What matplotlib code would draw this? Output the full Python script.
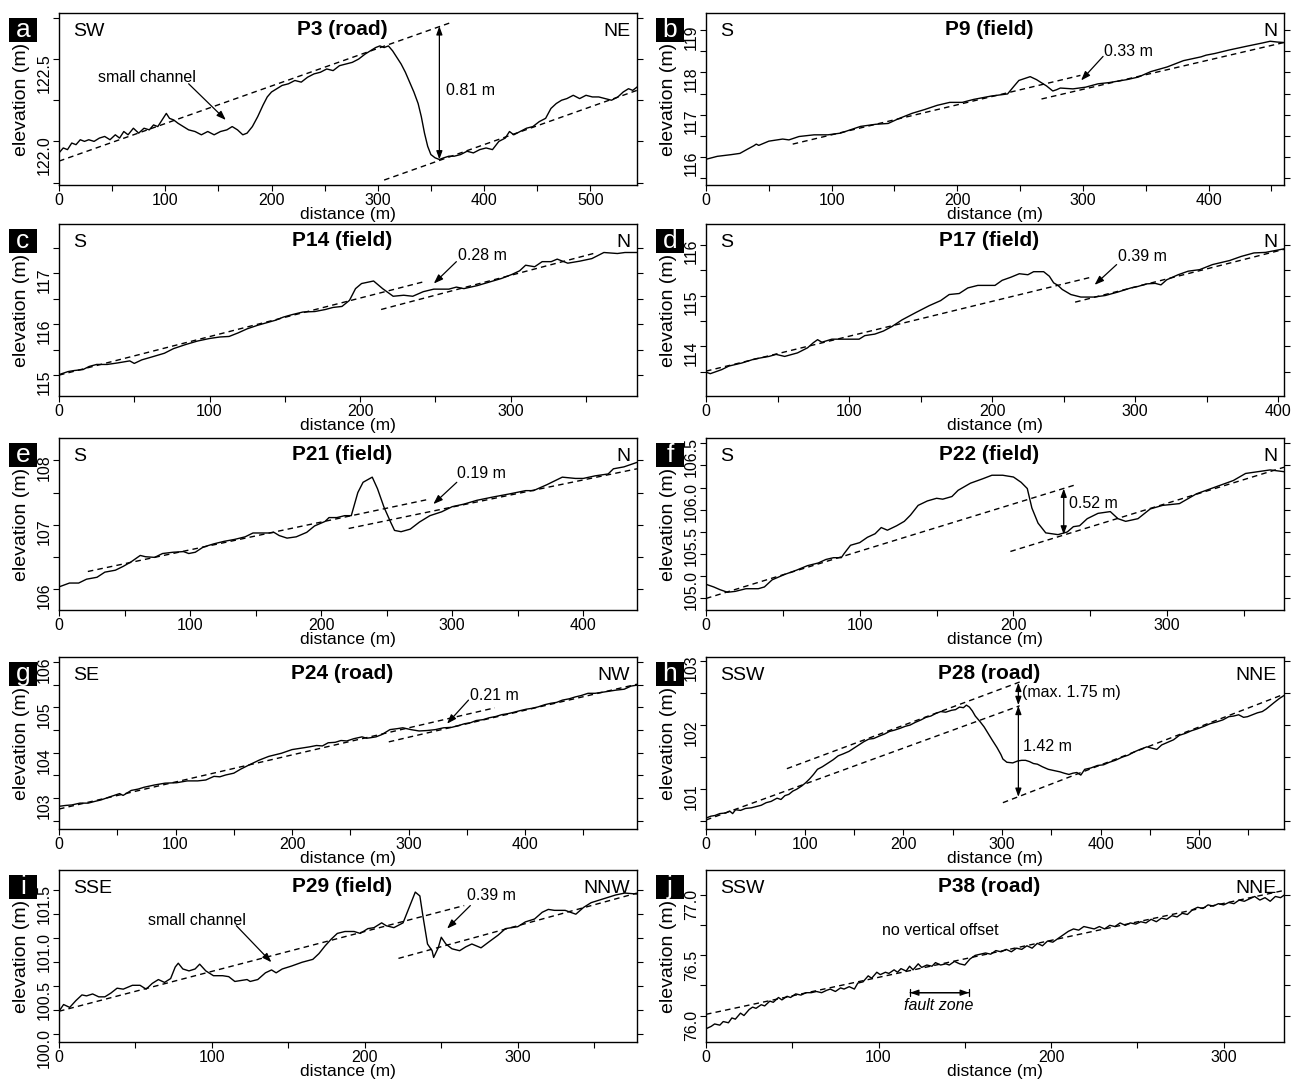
import matplotlib.pyplot as plt
from matplotlib.ticker import MultipleLocator, FormatStrFormatter
from matplotlib.patches import Rectangle

plt.rcParams['font.family'] = ['Liberation Sans Narrow', 'Liberation Sans', 'DejaVu Sans']
plt.rcParams['axes.linewidth'] = 1.0

# --- topographic profiles: distance (m) / elevation (m) ---
a_dist = [0, 4, 8, 12, 16, 20, 24, 28, 33, 38, 43, 48, 53, 57, 61, 65, 70, 75, 80, 85,
          89, 93, 97, 101, 104, 108, 112, 117, 122, 128, 134, 140, 146, 152, 158, 163, 168, 173, 177, 182,
          187, 192, 196, 200, 205, 210, 216, 222, 228, 234, 240, 246, 252, 258, 264, 270, 276, 282, 288, 293,
          298, 302, 306, 310, 314, 318, 322, 326, 330, 334, 338, 341, 344, 347, 350, 354, 358, 362, 367, 372,
          378, 384, 390, 396, 402, 408, 414, 420, 424, 428, 434, 440, 446, 452, 458, 463, 468, 473, 478, 484,
          490, 496, 502, 508, 514, 520, 526, 531, 536, 540, 544]
a_elev = [121.93, 121.96, 121.95, 121.99, 121.98, 122.01, 122.00, 122.01, 122.00, 122.02,
          122.03, 122.01, 122.04, 122.02, 122.06, 122.04, 122.08, 122.05, 122.08, 122.07,
          122.10, 122.09, 122.13, 122.17, 122.14, 122.13, 122.11, 122.09, 122.07, 122.06,
          122.04, 122.06, 122.04, 122.06, 122.07, 122.09, 122.07, 122.04, 122.05, 122.09,
          122.15, 122.22, 122.27, 122.30, 122.32, 122.34, 122.35, 122.37, 122.36, 122.39,
          122.41, 122.42, 122.44, 122.43, 122.46, 122.47, 122.48, 122.50, 122.53, 122.55,
          122.57, 122.58, 122.57, 122.58, 122.55, 122.51, 122.47, 122.42, 122.36, 122.30,
          122.23, 122.15, 122.05, 121.97, 121.92, 121.90, 121.89, 121.90, 121.91, 121.91,
          121.92, 121.94, 121.93, 121.95, 121.96, 121.95, 122.00, 122.02, 122.06, 122.04,
          122.06, 122.08, 122.09, 122.12, 122.14, 122.20, 122.23, 122.25, 122.26, 122.28,
          122.26, 122.28, 122.27, 122.27, 122.26, 122.25, 122.27, 122.30, 122.32, 122.31,
          122.33]

b_dist = [0, 9, 20, 27, 33, 38, 40, 42, 50, 61, 66, 74, 86, 97, 107, 115, 123, 135, 145, 153,
          164, 174, 184, 194, 204, 213, 227, 240, 245, 249, 258, 263, 271, 276, 279, 282, 292, 302, 312, 321,
          335, 344, 354, 367, 380, 394, 398, 405, 416, 430, 443, 449, 455, 460]
b_elev = [115.94, 116.01, 116.05, 116.08, 116.18, 116.26, 116.30, 116.27, 116.37, 116.42,
          116.40, 116.48, 116.52, 116.52, 116.56, 116.64, 116.72, 116.77, 116.79, 116.90,
          117.03, 117.12, 117.22, 117.29, 117.29, 117.36, 117.44, 117.49, 117.67, 117.81,
          117.90, 117.83, 117.68, 117.56, 117.59, 117.63, 117.61, 117.65, 117.73, 117.76,
          117.83, 117.89, 118.02, 118.13, 118.28, 118.37, 118.41, 118.45, 118.53, 118.62,
          118.70, 118.74, 118.72, 118.71]

c_dist = [0, 6, 10, 16, 20, 25, 32, 39, 43, 47, 50, 55, 62, 70, 76, 84, 92, 100, 107, 113,
          119, 125, 132, 138, 144, 149, 155, 162, 170, 177, 182, 188, 193, 197, 201, 209, 215, 222, 229, 235,
          242, 249, 259, 264, 269, 278, 286, 294, 301, 306, 310, 316, 321, 327, 331, 338, 346, 354, 362, 371,
          376, 384]
c_elev = [115.01, 115.07, 115.09, 115.11, 115.17, 115.21, 115.21, 115.24, 115.26, 115.28,
          115.23, 115.30, 115.36, 115.43, 115.52, 115.60, 115.67, 115.72, 115.75, 115.76,
          115.83, 115.91, 115.98, 116.03, 116.08, 116.14, 116.19, 116.24, 116.25, 116.29,
          116.33, 116.35, 116.47, 116.70, 116.80, 116.85, 116.70, 116.55, 116.57, 116.55,
          116.64, 116.69, 116.69, 116.73, 116.70, 116.76, 116.83, 116.90, 116.98, 117.05,
          117.16, 117.13, 117.23, 117.23, 117.28, 117.20, 117.24, 117.29, 117.41, 117.39,
          117.41, 117.41]

d_dist = [0, 3, 11, 16, 25, 34, 44, 49, 55, 64, 71, 75, 78, 81, 88, 95, 107, 111, 118, 124,
          130, 137, 147, 156, 164, 170, 177, 183, 190, 202, 207, 213, 219, 225, 229, 236, 240, 243, 246, 249,
          255, 262, 271, 279, 288, 297, 302, 308, 314, 318, 322, 330, 337, 345, 354, 366, 374, 383, 391, 404]
d_elev = [113.49, 113.46, 113.54, 113.61, 113.67, 113.75, 113.80, 113.84, 113.80, 113.87,
          113.97, 114.07, 114.13, 114.08, 114.14, 114.14, 114.14, 114.21, 114.24, 114.30,
          114.39, 114.52, 114.67, 114.80, 114.90, 115.02, 115.04, 115.15, 115.20, 115.20,
          115.30, 115.36, 115.43, 115.41, 115.47, 115.47, 115.38, 115.25, 115.20, 115.12,
          115.02, 114.97, 114.97, 115.00, 115.07, 115.15, 115.18, 115.23, 115.24, 115.21,
          115.31, 115.41, 115.48, 115.51, 115.61, 115.69, 115.77, 115.84, 115.85, 115.92]

e_dist = [0, 8, 15, 21, 29, 35, 43, 49, 55, 62, 66, 73, 79, 87, 95, 99, 104, 110, 118, 126,
          134, 142, 148, 154, 160, 164, 168, 174, 181, 189, 195, 203, 206, 212, 218, 223, 228, 232, 239, 243,
          248, 253, 256, 261, 268, 275, 283, 292, 300, 309, 319, 331, 344, 356, 362, 372, 384, 394, 400, 409,
          419, 423, 431, 441]
e_elev = [106.03, 106.09, 106.09, 106.15, 106.18, 106.26, 106.29, 106.35, 106.42, 106.52,
          106.50, 106.49, 106.55, 106.57, 106.58, 106.55, 106.57, 106.65, 106.70, 106.74,
          106.77, 106.81, 106.87, 106.87, 106.87, 106.88, 106.83, 106.79, 106.81, 106.88,
          106.98, 107.05, 107.11, 107.11, 107.14, 107.14, 107.50, 107.66, 107.74, 107.56,
          107.27, 107.04, 106.91, 106.89, 106.93, 107.04, 107.14, 107.20, 107.28, 107.32,
          107.38, 107.43, 107.48, 107.53, 107.53, 107.62, 107.74, 107.72, 107.72, 107.76,
          107.79, 107.87, 107.90, 107.97]

f_dist = [0, 5, 9, 14, 19, 26, 34, 38, 43, 51, 59, 66, 73, 78, 83, 88, 90, 94, 100, 105,
          110, 114, 118, 124, 129, 133, 138, 144, 150, 154, 160, 164, 172, 180, 186, 193, 200, 205, 209, 212,
          216, 221, 229, 235, 239, 243, 248, 255, 263, 268, 273, 281, 289, 297, 308, 319, 327, 335, 343, 351,
          359, 367, 376]
f_elev = [104.91, 104.88, 104.85, 104.82, 104.83, 104.86, 104.86, 104.88, 104.96, 105.02,
          105.07, 105.12, 105.15, 105.19, 105.21, 105.21, 105.26, 105.35, 105.38, 105.44,
          105.48, 105.55, 105.52, 105.57, 105.62, 105.69, 105.80, 105.85, 105.88, 105.87,
          105.90, 105.97, 106.05, 106.10, 106.14, 106.14, 106.12, 106.06, 105.99, 105.77,
          105.60, 105.49, 105.47, 105.50, 105.56, 105.57, 105.65, 105.71, 105.73, 105.65,
          105.62, 105.65, 105.76, 105.80, 105.82, 105.93, 105.98, 106.03, 106.08, 106.16,
          106.18, 106.20, 106.18]

g_dist = [0, 6, 11, 18, 25, 31, 36, 45, 52, 55, 62, 68, 73, 82, 91, 101, 110, 119, 126, 133,
          138, 143, 150, 156, 163, 172, 180, 191, 200, 210, 215, 221, 226, 231, 237, 242, 247, 253, 260, 264,
          267, 272, 277, 284, 290, 295, 302, 309, 316, 323, 330, 337, 343, 348, 353, 358, 364, 369, 375, 380,
          385, 390, 396, 401, 406, 411, 417, 422, 427, 432, 438, 443, 448, 454, 460, 468, 473, 478, 485, 491,
          496]
g_elev = [102.82, 102.84, 102.85, 102.89, 102.89, 102.93, 102.96, 103.04, 103.10, 103.06,
          103.17, 103.20, 103.24, 103.29, 103.33, 103.34, 103.38, 103.38, 103.40, 103.48,
          103.47, 103.51, 103.55, 103.64, 103.73, 103.84, 103.92, 103.99, 104.07, 104.11,
          104.13, 104.16, 104.15, 104.22, 104.23, 104.27, 104.26, 104.31, 104.35, 104.32,
          104.33, 104.35, 104.40, 104.51, 104.53, 104.55, 104.51, 104.48, 104.49, 104.51,
          104.55, 104.56, 104.60, 104.64, 104.66, 104.71, 104.73, 104.77, 104.80, 104.84,
          104.86, 104.89, 104.93, 104.96, 104.98, 105.01, 105.06, 105.09, 105.11, 105.16,
          105.19, 105.23, 105.26, 105.31, 105.31, 105.34, 105.36, 105.38, 105.40, 105.47,
          105.49]

h_dist = [0, 5, 9, 14, 20, 24, 27, 30, 35, 40, 46, 51, 56, 61, 66, 72, 76, 80, 84, 88,
          92, 97, 101, 105, 109, 113, 118, 124, 129, 134, 139, 145, 150, 155, 160, 165, 170, 176, 181, 186,
          191, 197, 202, 207, 212, 218, 223, 228, 233, 238, 243, 249, 253, 257, 261, 264, 267, 270, 273, 278,
          282, 286, 290, 295, 299, 301, 305, 311, 316, 320, 324, 328, 332, 336, 341, 347, 353, 359, 363, 368,
          372, 376, 380, 384, 390, 397, 403, 409, 415, 422, 428, 434, 440, 447, 452, 457, 462, 468, 474, 480,
          486, 492, 498, 505, 511, 518, 524, 530, 535, 540, 545, 549, 554, 559, 564, 568, 572, 576, 581, 586]
h_elev = [100.55, 100.58, 100.59, 100.62, 100.63, 100.66, 100.62, 100.68, 100.67, 100.70,
          100.71, 100.73, 100.75, 100.79, 100.81, 100.86, 100.84, 100.90, 100.92, 100.97,
          101.00, 101.05, 101.10, 101.16, 101.23, 101.31, 101.35, 101.41, 101.46, 101.52,
          101.55, 101.59, 101.64, 101.69, 101.74, 101.78, 101.79, 101.83, 101.86, 101.90,
          101.92, 101.95, 101.98, 102.00, 102.04, 102.08, 102.12, 102.14, 102.18, 102.21,
          102.20, 102.23, 102.24, 102.28, 102.27, 102.31, 102.28, 102.22, 102.14, 102.05,
          101.97, 101.87, 101.77, 101.65, 101.54, 101.47, 101.42, 101.41, 101.44, 101.45,
          101.45, 101.43, 101.40, 101.39, 101.35, 101.31, 101.29, 101.27, 101.25, 101.23,
          101.25, 101.26, 101.22, 101.31, 101.33, 101.37, 101.38, 101.42, 101.45, 101.50,
          101.53, 101.58, 101.62, 101.66, 101.64, 101.62, 101.69, 101.73, 101.77, 101.84,
          101.87, 101.91, 101.94, 101.98, 102.02, 102.05, 102.08, 102.13, 102.14, 102.16,
          102.12, 102.13, 102.16, 102.19, 102.21, 102.25, 102.30, 102.35, 102.41, 102.46]

i_dist = [0, 3, 7, 11, 15, 18, 22, 26, 30, 34, 38, 42, 48, 53, 57, 61, 65, 69, 73, 76,
          78, 81, 85, 89, 92, 96, 101, 107, 111, 115, 119, 123, 125, 130, 135, 139, 142, 146, 152, 159,
          166, 170, 174, 178, 182, 187, 193, 197, 202, 206, 211, 214, 219, 225, 229, 233, 236, 238, 241, 244,
          245, 248, 250, 253, 257, 262, 266, 270, 276, 281, 287, 292, 300, 305, 311, 316, 320, 324, 331, 338,
          343, 348, 356, 364, 370, 378]
i_elev = [100.24, 100.31, 100.28, 100.35, 100.41, 100.40, 100.42, 100.39, 100.39, 100.43,
          100.48, 100.47, 100.51, 100.51, 100.47, 100.53, 100.57, 100.54, 100.58, 100.70,
          100.74, 100.68, 100.66, 100.68, 100.73, 100.66, 100.61, 100.61, 100.60, 100.55,
          100.56, 100.57, 100.55, 100.57, 100.64, 100.67, 100.64, 100.68, 100.71, 100.75,
          100.78, 100.84, 100.92, 100.99, 101.05, 101.07, 101.07, 101.05, 101.10, 101.11,
          101.16, 101.13, 101.11, 101.16, 101.32, 101.48, 101.44, 101.23, 100.94, 100.87,
          100.80, 100.90, 101.01, 100.94, 100.89, 100.87, 100.91, 100.94, 100.90, 100.96,
          101.03, 101.10, 101.12, 101.17, 101.20, 101.27, 101.30, 101.29, 101.29, 101.25,
          101.32, 101.37, 101.41, 101.45, 101.47, 101.46]

j_dist = [0, 3, 5, 8, 10, 13, 15, 17, 20, 22, 25, 27, 29, 32, 34, 37, 39, 42, 44, 47,
          49, 52, 55, 58, 61, 64, 67, 70, 72, 75, 78, 80, 83, 86, 88, 91, 94, 96, 99, 101,
          104, 106, 109, 111, 113, 116, 118, 120, 123, 125, 128, 131, 133, 136, 139, 141, 144, 147, 150, 153,
          156, 159, 162, 165, 168, 171, 174, 177, 180, 183, 186, 189, 192, 195, 198, 201, 204, 207, 210, 213,
          216, 219, 222, 225, 228, 231, 234, 237, 240, 243, 246, 249, 252, 255, 258, 261, 264, 267, 270, 273,
          276, 279, 282, 285, 288, 291, 294, 297, 300, 303, 306, 309, 312, 315, 318, 321, 324, 327, 330, 333,
          335]
j_elev = [75.89, 75.91, 75.93, 75.92, 75.95, 75.94, 75.98, 75.97, 76.02, 76.00,
          76.05, 76.07, 76.06, 76.09, 76.08, 76.12, 76.11, 76.15, 76.13, 76.16,
          76.15, 76.18, 76.17, 76.19, 76.19, 76.20, 76.19, 76.21, 76.22, 76.20,
          76.23, 76.22, 76.24, 76.22, 76.27, 76.28, 76.33, 76.31, 76.36, 76.34,
          76.36, 76.35, 76.38, 76.36, 76.39, 76.37, 76.41, 76.38, 76.43, 76.40,
          76.42, 76.41, 76.44, 76.42, 76.43, 76.42, 76.45, 76.43, 76.42, 76.47,
          76.50, 76.51, 76.52, 76.51, 76.54, 76.53, 76.55, 76.53, 76.56, 76.55,
          76.58, 76.56, 76.60, 76.58, 76.62, 76.61, 76.64, 76.67, 76.70, 76.72,
          76.71, 76.74, 76.73, 76.72, 76.74, 76.72, 76.75, 76.74, 76.77, 76.75,
          76.77, 76.76, 76.78, 76.77, 76.80, 76.78, 76.81, 76.80, 76.83, 76.82,
          76.85, 76.84, 76.88, 76.90, 76.89, 76.92, 76.91, 76.93, 76.92, 76.94,
          76.93, 76.96, 76.95, 76.97, 76.99, 76.96, 76.98, 76.95, 76.99, 76.98,
          77.00]

# fitted surface lines [x0, y0, x1, y1]
a_fit = [[0, 121.88, 368, 122.72], [306, 121.765, 544, 122.31]]
b_fit = [[69, 116.30, 298, 117.93], [267, 117.37, 460, 118.71]]
c_fit = [[0, 115.0, 243, 116.84], [214, 116.29, 355, 117.39]]
d_fit = [[0, 113.51, 269, 115.36], [258, 114.87, 404, 115.91]]
e_fit = [[22, 106.27, 281, 107.39], [221, 106.94, 441, 107.87]]
f_fit = [[0, 104.75, 240, 106.03], [198, 105.28, 376, 106.23]]
g_fit = [[0, 102.76, 374, 104.99], [283, 104.24, 496, 105.51]]
h_fit = [[82, 101.32, 318, 102.67], [0, 100.52, 318, 102.30], [301, 100.79, 586, 102.48]]
i_fit = [[0, 100.24, 265, 101.34], [222, 100.79, 378, 101.47]]
j_fit = [[0, 76.01, 335, 77.04]]

letters = ['a', 'b', 'c', 'd', 'e', 'f', 'g', 'h', 'i', 'j']
titles = ['P3 (road)', 'P9 (field)', 'P14 (field)', 'P17 (field)', 'P21 (field)',
          'P22 (field)', 'P24 (road)', 'P28 (road)', 'P29 (field)', 'P38 (road)']
dir_left = ['SW', 'S', 'S', 'S', 'S', 'S', 'SE', 'SSW', 'SSE', 'SSW']
dir_right = ['NE', 'N', 'N', 'N', 'N', 'N', 'NW', 'NNE', 'NNW', 'NNE']
x_max = [544, 460, 384, 404, 441, 376, 496, 586, 378, 335]
y_lims = [(121.735, 122.78), (115.33, 119.41), (114.59, 117.97), (113.02, 116.41),
          (105.67, 108.35), (104.62, 106.56), (102.32, 106.11), (100.38, 103.06),
          (99.92, 101.71), (75.78, 77.21)]
y_step = [0.5, 1, 1, 1, 1, 0.5, 1, 1, 0.5, 0.5]

profiles = [(a_dist, a_elev, a_fit), (b_dist, b_elev, b_fit), (c_dist, c_elev, c_fit),
            (d_dist, d_elev, d_fit), (e_dist, e_elev, e_fit), (f_dist, f_elev, f_fit),
            (g_dist, g_elev, g_fit), (h_dist, h_elev, h_fit), (i_dist, i_elev, i_fit),
            (j_dist, j_elev, j_fit)]

W, H = 1291, 1082
fig = plt.figure(figsize=(W / 100, H / 100), dpi=100)
col_left = [59, 706]
row_top = [13, 224, 438, 657, 870]
ax_w, ax_h = 578, 172

SANS = 'Liberation Sans'
axes = []
for k in range(10):
    r, c = divmod(k, 2)
    ax = fig.add_axes([col_left[c] / W, 1 - (row_top[r] + ax_h) / H, ax_w / W, ax_h / H])
    dist, elev, fits = profiles[k]
    ax.plot(dist, elev, color='black', lw=1.0)
    for x0, y0, x1, y1 in fits:
        ax.plot([x0, x1], [y0, y1], color='black', lw=1.0, dashes=(4, 3))

    ax.set_xlim(0, x_max[k])
    ax.set_ylim(*y_lims[k])
    ax.xaxis.set_major_locator(MultipleLocator(100))
    ax.xaxis.set_minor_locator(MultipleLocator(50))
    ax.yaxis.set_major_locator(MultipleLocator(y_step[k]))
    ax.yaxis.set_minor_locator(MultipleLocator(y_step[k] / 2))
    ax.yaxis.set_major_formatter(FormatStrFormatter('%.1f' if y_step[k] < 1 else '%d'))
    ax.tick_params(which='both', direction='out', length=4, width=0.8,
                   right=True, top=False, labelsize=11.5)
    ax.tick_params(axis='y', labelrotation=90, pad=1)
    ax.tick_params(axis='x', pad=1.5)

    ax.set_xlabel('distance (m)', family=SANS, fontsize=12.5, labelpad=-0.5)
    ax.set_ylabel('elevation (m)', family=SANS, fontsize=14)
    ax.yaxis.set_label_coords(-0.050, 0.5)

    ax.text(0.49, 0.905, titles[k], transform=ax.transAxes, ha='center', va='center',
            family=SANS, fontweight='bold', fontsize=15)
    ax.text(0.025, 0.89, dir_left[k], transform=ax.transAxes, ha='left', va='center',
            family=SANS, fontsize=14)
    ax.text(0.988, 0.89, dir_right[k], transform=ax.transAxes, ha='right', va='center',
            family=SANS, fontsize=14)

    # panel letter in a black square
    ax.add_patch(Rectangle((-0.0865, 0.83), 0.0484, 0.14, transform=ax.transAxes,
                           facecolor='black', edgecolor='none', clip_on=False))
    ax.text(-0.0623, 0.90, letters[k], transform=ax.transAxes, ha='center', va='center',
            color='white', family=SANS, fontsize=19)
    axes.append(ax)

arrow1 = dict(arrowstyle='-|>,head_length=0.55,head_width=0.2', color='black',
              lw=0.9, shrinkA=0, shrinkB=0)
arrow2 = dict(arrowstyle='<|-|>,head_length=0.5,head_width=0.18', color='black',
              lw=0.9, shrinkA=0, shrinkB=0)
small = dict(fontsize=11.5)


def pointer(ax, label, text_xy, tail, head, ha='left'):
    ax.text(*text_xy, label, ha=ha, va='center', **small)
    ax.annotate('', xy=head, xytext=tail, arrowprops=arrow1)


def offset(ax, x, y_top, y_bot):
    ax.annotate('', xy=(x, y_bot), xytext=(x, y_top), arrowprops=arrow2)


ax = axes[0]
offset(ax, 358, 122.70, 121.89)
ax.text(364, 122.31, '0.81 m', ha='left', va='center', **small)
pointer(ax, 'small channel', (83, 122.39), (122, 122.35), (157, 122.13), ha='center')

pointer(axes[1], '0.33 m', (317, 118.50), (316, 118.38), (298.5, 117.81))
pointer(axes[2], '0.28 m', (265, 117.36), (264, 117.23), (249, 116.80))
pointer(axes[3], '0.39 m', (288, 115.77), (287, 115.61), (271.6, 115.21))
pointer(axes[4], '0.19 m', (304, 107.79), (303.5, 107.66), (285.6, 107.32))

ax = axes[5]
offset(ax, 232.7, 105.99, 105.47)
ax.text(236, 105.82, '0.52 m', ha='left', va='center', **small)

pointer(axes[6], '0.21 m', (353, 105.27), (351.4, 105.16), (333, 104.64))

ax = axes[7]
offset(ax, 316.7, 102.66, 102.31)
offset(ax, 316.7, 102.30, 100.88)
ax.text(320.8, 102.50, '(max. 1.75 m)', ha='left', va='center', **small)
ax.text(321.7, 101.67, '1.42 m', ha='left', va='center', **small)

ax = axes[8]
pointer(ax, '0.39 m', (266.5, 101.44), (269, 101.34), (253.8, 101.10))
pointer(ax, 'small channel', (90.5, 101.18), (116, 101.13), (138.9, 100.75), ha='center')

ax = axes[9]
ax.text(136, 76.71, 'no vertical offset', ha='center', va='center', **small)
ax.annotate('', xy=(152.4, 76.19), xytext=(118.3, 76.19), arrowprops=arrow2)
ax.annotate('', xy=(152.4, 76.19), xytext=(118.3, 76.19),
            arrowprops=dict(arrowstyle='|-|,widthA=0.25,widthB=0.25', color='black',
                            lw=0.9, shrinkA=0, shrinkB=0))
ax.text(135, 76.08, 'fault zone', ha='center', va='center', style='italic', **small)

fig.savefig('out.png', dpi=100)
